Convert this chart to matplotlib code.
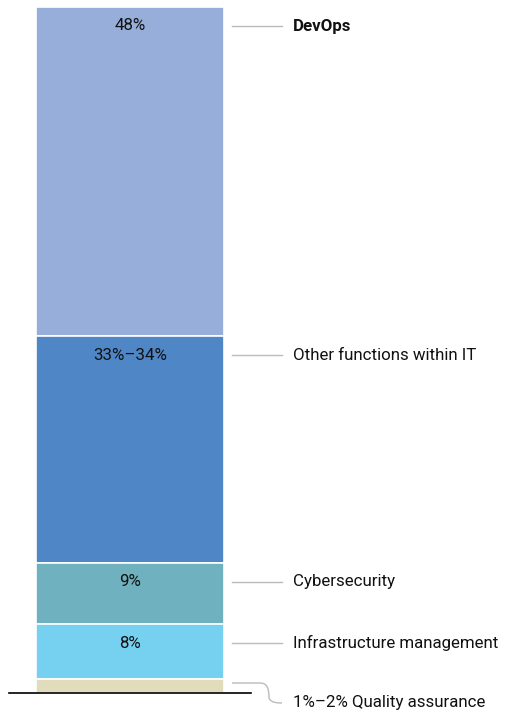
import matplotlib.pyplot as plt
from matplotlib.path import Path
from matplotlib.patches import PathPatch

plt.rcParams['font.family'] = ['Roboto', 'DejaVu Sans']

# data, from the top of the bar down
labels = ['DevOps', 'Other functions within IT', 'Cybersecurity',
          'Infrastructure management', 'Quality assurance']
values = [48, 33, 9, 8, 2]
value_text = ['48%', '33%–34%', '9%', '8%', '1%–2%']
colors = ['#98AEDA', '#4F86C6', '#6FB1BF', '#76D0F0', '#E0DCBC']

W, H = 509, 713
fig = plt.figure(figsize=(W / 100, H / 100), dpi=100)
# axes: x in pixels, y in percent (0 = bottom of bar)
ax = fig.add_axes([0, 20 / H, 1, 686 / H])
ax.set_xlim(0, W)
ax.set_ylim(0, 100)
ax.axis('off')

px = 100 / 686  # percent per pixel
fs = 12.2

top = 100
for lab, v, vt, c in zip(labels, values, value_text, colors):
    bottom = top - v
    ax.bar(130, v, width=188, bottom=bottom, color=c, edgecolor='white', linewidth=1.2)
    if lab != 'Quality assurance':
        ty = top - 19 * px
        ax.text(130, ty, vt, ha='center', va='center', fontsize=fs, color='#111111')
        ax.plot([232, 282], [ty, ty], color='#bbbbbb', lw=1)
        ax.text(293, ty, lab, ha='left', va='center', fontsize=fs, color='#111111',
                fontweight='bold' if lab == 'DevOps' else 'normal')
    top = bottom

# quality assurance callout, bends below the baseline
qy = 10 * px
ty = -10 * px
verts = [(232, qy), (260, qy), (267, qy), (269, qy - 5 * px),
         (269, ty + 5 * px), (271, ty), (278, ty), (282, ty)]
codes = [Path.MOVETO, Path.LINETO, Path.CURVE4, Path.CURVE4, Path.LINETO,
         Path.CURVE4, Path.CURVE4, Path.CURVE4]
ax.add_patch(PathPatch(Path(verts, codes), fill=False, edgecolor='#bbbbbb', lw=1, clip_on=False))
ax.text(293, ty, value_text[-1] + ' ' + labels[-1], ha='left', va='center',
        fontsize=fs, color='#111111', clip_on=False)

# baseline
ax.plot([9, 251], [0, 0], color='black', lw=1.2, clip_on=False)

fig.savefig('out.png', dpi=100)
